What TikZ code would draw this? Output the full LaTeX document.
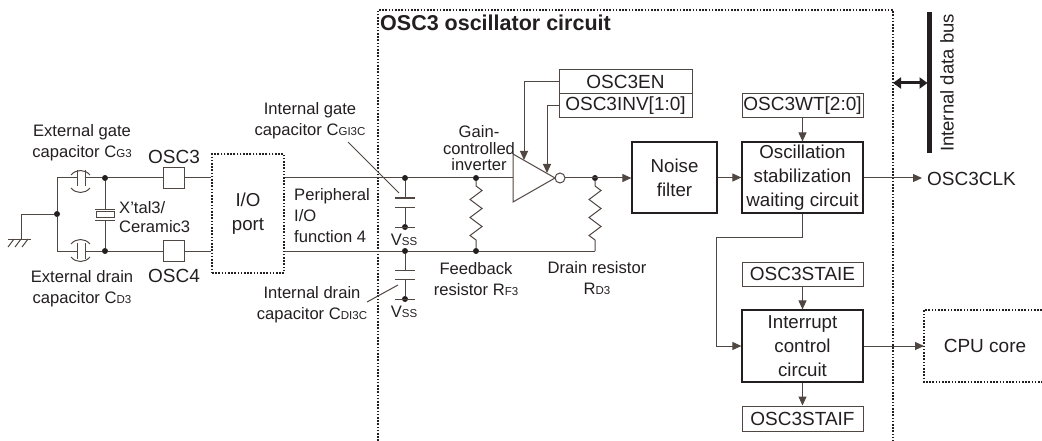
\documentclass[tikz,border=0pt]{standalone}
\usepackage{fontspec}
\setmainfont{Liberation Sans}
\newfontfamily\ttlfont{Liberation Sans Bold}
\usetikzlibrary{arrows.meta}
\definecolor{wire}{RGB}{80,70,66}
\definecolor{ink}{RGB}{35,31,32}
\newcommand{\lowtxt}[1]{{\fontsize{11.5}{12}\selectfont #1}}
\begin{document}
\begin{tikzpicture}[x=1pt,y=-1pt,
  wire/.style={draw=wire,line width=1pt},
  arr/.style={draw=wire,line width=1pt,-{Triangle[length=9pt,width=8pt]}},
  dotline/.style={draw=ink,line width=1.6pt,dash pattern=on 1.6pt off 1.6pt},
  lbl/.style={font=\fontsize{16.6}{21}\selectfont,text=ink,align=center,inner sep=0pt},
  blk/.style={draw=ink,line width=1.2pt,font=\fontsize{18.7}{24}\selectfont,align=center,text=ink,inner sep=0pt},
  reg/.style={draw=wire,line width=1pt,font=\fontsize{19}{22}\selectfont,text=ink,inner sep=0pt,minimum height=24pt},
  pinbox/.style={draw=wire,line width=1pt,inner sep=0pt,minimum size=21pt},
  jdot/.style={circle,fill=ink,inner sep=0pt,minimum size=6pt},
]
\useasboundingbox (0,0) rectangle (1042,441);

% outer dotted frame
\draw[dotline] (378,441) -- (378,10) -- (893,10) -- (893,441);
\node[anchor=west,inner sep=0pt,font=\ttlfont\fontsize{21.5}{24}\selectfont,text=ink] (ttl) at (380,23) {OSC3 oscillator circuit};

% ---------- external part ----------
\coordinate (gL) at (57,178);
\coordinate (gB) at (57,251);
\node[jdot] (gM) at (57,214) {};
\coordinate (gndA) at (21,214);
\coordinate (gnd) at (21,239);
\node[jdot] (jT) at (105,178) {};
\node[jdot] (jB) at (105,251) {};
\node[pinbox] (p3) at (173.5,178) {};
\node[pinbox] (p4) at (173.5,251) {};

\draw[wire] (gL) -- (gM) -- (gB);
\draw[wire] (gM) -- (gndA) -- (gnd);
\draw[wire] (8,239) -- (31,239);
\draw[wire] (14,239) -- (8,247) (21,239) -- (15,247) (28,239) -- (22,247);

% gate capacitor
\coordinate (cT1) at (77,178);
\coordinate (cT2) at (85,178);
\draw[wire] (gL) -- (cT1);
\draw[wire] (cT2) -- (jT);
\draw[wire] (77,170) -- (77,186) (85,170) -- (85,186);
\draw[wire] (71,175) .. controls (76,169) and (85,169) .. (90,175);
\draw[wire] (71,188) .. controls (76,194) and (85,194) .. (90,188);
% drain capacitor
\coordinate (cB1) at (77,251);
\coordinate (cB2) at (85,251);
\draw[wire] (gB) -- (cB1);
\draw[wire] (cB2) -- (jB);
\draw[wire] (77,243) -- (77,259) (85,243) -- (85,259);
\draw[wire] (71,244) .. controls (76,238) and (85,238) .. (90,244);
\draw[wire] (71,257) .. controls (76,263) and (85,263) .. (90,257);

% crystal
\draw[wire] (jT) -- (105,209);
\draw[wire] (95,209) -- (115,209) (95,220) -- (115,220);
\draw[wire] (96,211.5) rectangle (114,217.5);
\draw[wire] (105,220) -- (jB);

\draw[wire] (jT) -- (p3);
\draw[wire] (jB) -- (p4);

\node[lbl] (lgate) at (82,143) {External gate\\capacitor C\lowtxt{G3}};
\node[lbl] (ldrain) at (82,288.5) {External drain\\capacitor C\lowtxt{D3}};
\node[lbl,font=\fontsize{19}{22}\selectfont] (l3) at (174,157) {OSC3};
\node[lbl,font=\fontsize{19}{22}\selectfont] (l4) at (174,276) {OSC4};
\node[lbl,align=left,anchor=west,font=\fontsize{16.6}{19.5}\selectfont] (lx) at (119,217) {X'tal3/\\Ceramic3};

% I/O port
\node[blk,dotline,minimum width=72pt,minimum height=119pt] (io) at (248,213.5) {I/O\\port};
\draw[wire] (p3) -- (io.west |- p3);
\draw[wire] (p4) -- (io.west |- p4);

\node[lbl,align=left,anchor=west] (lper) at (294,216) {Peripheral\\I/O\\function 4};

% internal capacitors
\node[jdot] (cgT) at (405,178) {};
\node[jdot] (cgB) at (405,251) {};
\node[jdot] (vs1) at (405,227) {};
\node[jdot] (vs2) at (405,299) {};
\draw[wire] (cgT) -- (405,198);
\draw[wire] (395,198) -- (415,198) (395,207) -- (415,207);
\draw[wire] (405,207) -- (vs1);
\draw[wire] (395,227) -- (415,227);
\draw[wire] (cgB) -- (405,270);
\draw[wire] (395,270) -- (415,270) (395,279) -- (415,279);
\draw[wire] (405,279) -- (vs2);
\draw[wire] (395,299) -- (415,299);
\node[lbl] (vss1) at (404,240) {V\lowtxt{SS}};
\node[lbl] (vss2) at (404,312) {V\lowtxt{SS}};

\node[lbl] (lig) at (310,120.5) {Internal gate\\capacitor C\lowtxt{GI3C}};
\node[lbl] (lid) at (312,304.5) {Internal drain\\capacitor C\lowtxt{DI3C}};
\coordinate (lgA) at (348,142);
\coordinate (lgB) at (399,193);
\coordinate (ldA) at (367,302);
\coordinate (ldB) at (398,285);
\draw[wire] (lgA) -- (lgB);
\draw[wire] (ldA) -- (ldB);

% feedback / drain resistors and inverter
\node[jdot] (fbT) at (476,178) {};
\node[jdot] (fbB) at (476,251) {};
\node[jdot] (drT) at (595,178) {};
\coordinate (drB) at (595,251);
\coordinate (invin) at (513,178);
\coordinate (invout) at (565,178);

\draw[wire] (io.east |- p3) -- (cgT) -- (fbT) -- (invin);
\draw[wire] (io.east |- p4) -- (cgB) -- (fbB) -- (drB);
\draw[wire] (fbT) -- ++(0,8) -- ++(6,4.5) -- ++(-12,9) -- ++(12,9) -- ++(-12,9) -- ++(12,9) -- ++(-12,9) -- ++(6,4.5) -- (fbB);
\draw[wire] (drT) -- ++(0,8) -- ++(6,4.5) -- ++(-12,9) -- ++(12,9) -- ++(-12,9) -- ++(12,9) -- ++(-12,9) -- ++(6,4.5) -- (drB);

\draw[wire,fill=white] (513,154) -- (555,178) -- (513,202) -- cycle;
\draw[wire,fill=white] (560,178) circle (5);

\node[lbl,font=\fontsize{16.6}{16.5}\selectfont] (lgc) at (479,148.5) {Gain-\\controlled\\inverter};
\node[lbl] (lfb) at (476,279) {Feedback\\resistor R\lowtxt{F3}};
\node[lbl] (ldr) at (597,278.5) {Drain resistor\\R\lowtxt{D3}};

% registers
\node[reg,minimum width=133pt] (en) at (625.5,82) {OSC3EN};
\node[reg,minimum width=133pt] (inv) at (625.5,106) {OSC3INV[1:0]};
\coordinate (enK) at (524,82);
\coordinate (enE) at (524,160);
\coordinate (invK) at (547,106);
\coordinate (invE) at (547,173);
\draw[arr] (en.west) -- (enK) -- (enE);
\draw[arr] (inv.west) -- (invK) -- (invE);

% noise filter and stabilization
\node[blk,minimum width=85pt,minimum height=71pt] (nf) at (674.5,177.5) {Noise\\filter};
\node[blk,minimum width=121pt,minimum height=71pt] (osc) at (802.5,177.5) {Oscillation\\stabilization\\waiting circuit};
\node[reg,minimum width=121pt] (wt) at (802.5,106) {OSC3WT[2:0]};
\draw[arr] (invout) -- (nf.west |- invout);
\draw[arr] (nf.east |- osc.west) -- (osc.west);
\draw[arr] (wt.south) -- (osc.north);

\coordinate (clk) at (922,178);
\draw[arr] (osc.east |- clk) -- (clk);
\node[lbl,anchor=west,font=\fontsize{19}{22}\selectfont] (lclk) at (927,179) {OSC3CLK};

% internal data bus
\coordinate (busT) at (929.5,12);
\coordinate (busB) at (929.5,153);
\draw[draw=ink,line width=4.5pt] (busT) -- (busB);
\coordinate (bA) at (893,83);
\coordinate (bB) at (927.5,83);
\draw[draw=ink,line width=3pt,{Triangle[length=8pt,width=11pt]}-{Triangle[length=8pt,width=11pt]}] (bA) -- (bB);
\node[lbl,rotate=90,font=\fontsize{18.5}{22}\selectfont] (lbus) at (947,83) {Internal data bus};

% interrupt
\node[reg,minimum width=121pt] (staie) at (802.5,274) {OSC3STAIE};
\node[blk,minimum width=121pt,minimum height=72pt] (intr) at (802.5,346) {Interrupt\\control\\circuit};
\node[reg,minimum width=121pt,minimum height=25pt] (staif) at (802.5,418.5) {OSC3STAIF};
\coordinate (k1) at (802.5,237);
\coordinate (k2) at (716,237);
\coordinate (k3) at (716,346);
\draw[arr] (osc.south) -- (k1) -- (k2) -- (k3) -- (intr.west);
\draw[arr] (staie.south) -- (intr.north);
\draw[arr] (intr.south) -- (staif.north);

% CPU core
\coordinate (cpuW) at (924,346);
\draw[dotline] (1042,310) -- (924,310) -- (924,382) -- (1042,382);
\node[lbl,font=\fontsize{19}{22}\selectfont] (cpu) at (985,346) {CPU core};
\draw[arr] (intr.east) -- (cpuW);
\end{tikzpicture}
\end{document}
